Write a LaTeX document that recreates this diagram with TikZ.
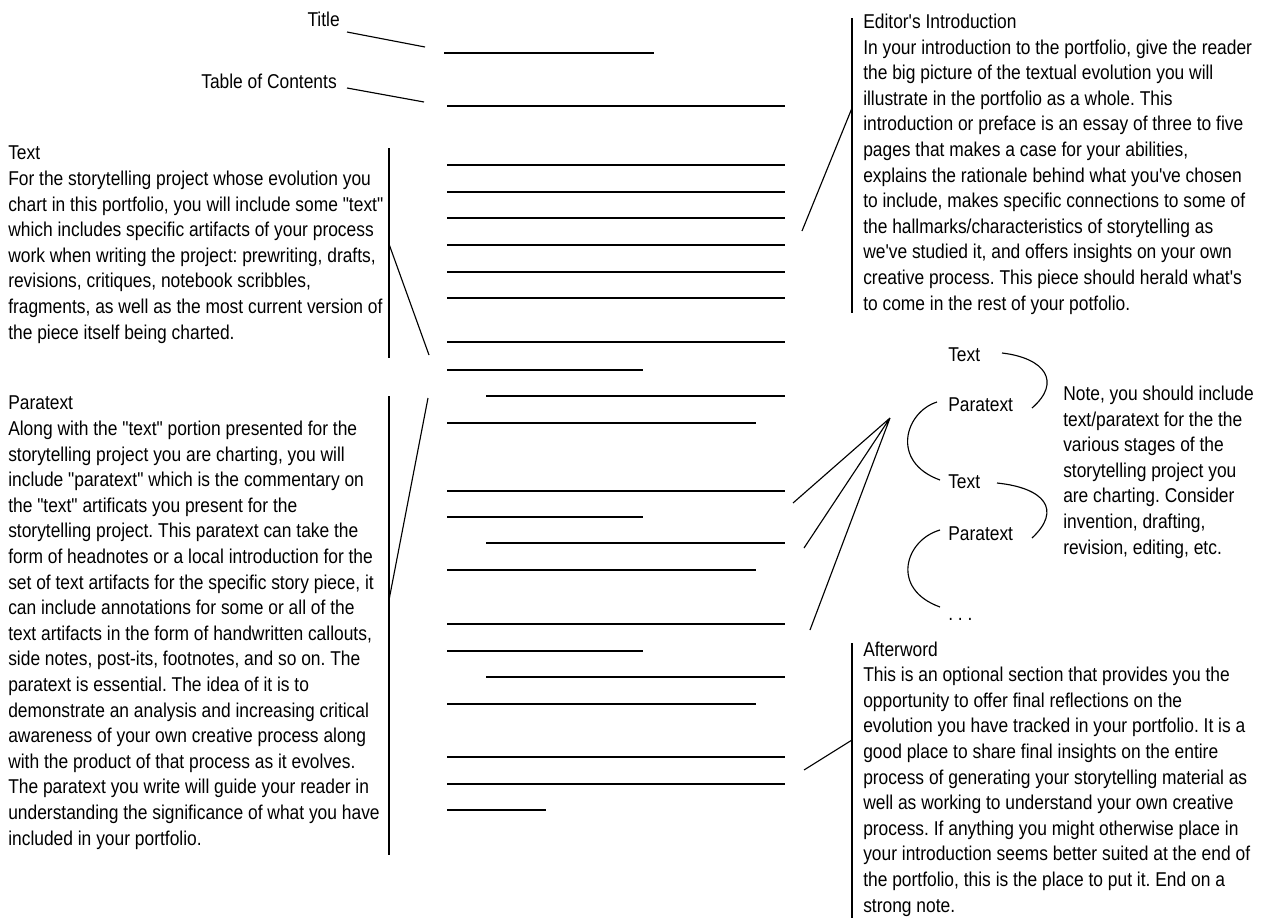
\documentclass[tikz,border=0pt]{standalone}
\usepackage{fontspec}
\usetikzlibrary{positioning}
\newfontfamily\policeb{Liberation Sans}[FakeStretch=0.87]
\newcommand\police{\policeb\fontsize{15}{19.2}\selectfont\frenchspacing}

\begin{document}
\begin{tikzpicture}[x=0.75pt, y=-0.75pt,
  regle/.style={line width=1.9pt},
  renvoi/.style={line width=0.85pt},
  accol/.style={line width=1.1pt},
  % base = ligne de base de la derniere ligne du bloc
  bloc/.style={font=\police, align=left, inner sep=0pt, anchor=base west},
  etiq/.style={font=\police, inner sep=0pt}]
  \useasboundingbox (0,0) rectangle (1272,918);

  % --- la page : traits de texte ---------------------------------------
  \draw[regle] (444,53) -- (654,53);
  \draw[regle] (447,106) -- (785,106);
  \draw[regle] (447,165) -- (785,165)  (447,192) -- (785,192)
               (447,218) -- (785,218)  (447,245) -- (785,245)
               (447,272) -- (785,272)  (447,298) -- (785,298);
  \draw[regle] (447,342) -- (785,342)  (447,370) -- (643,370)
               (486,396) -- (785,396)  (447,423) -- (756,423);
  \draw[regle] (447,491) -- (785,491)  (447,517) -- (643,517)
               (486,543) -- (785,543)  (447,570) -- (756,570);
  \draw[regle] (447,624) -- (785,624)  (447,651) -- (643,651)
               (486,677) -- (785,677)  (447,704) -- (756,704);
  \draw[regle] (447,757) -- (785,757)  (447,784) -- (785,784)
               (447,810) -- (546,810);

  % --- titre et sommaire ------------------------------------------------
  \node[etiq, anchor=base east] (titre) at (340,26) {Title};
  \node[etiq, anchor=base east] (sommaire) at (337,88) {Table of Contents};
  \coordinate (titre-b) at (425,47);
  \coordinate (sommaire-b) at (424,102);
  \draw[renvoi] ([shift={(7,6)}]titre.base east) -- (titre-b);
  \draw[renvoi] ([shift={(10,0)}]sommaire.base east) -- (sommaire-b);

  % --- bloc Text, a gauche ----------------------------------------------
  \node[bloc] (texte) at (8,339) {Text\\
    For the storytelling project whose evolution you\\
    chart in this portfolio, you will include some "text"\\
    which includes specific artifacts of your process\\
    work when writing the project: prewriting, drafts,\\
    revisions, critiques, notebook scribbles,\\
    fragments, as well as the most current version of\\
    the piece itself being charted.};
  \coordinate (texte-h) at (389,148);
  \coordinate (texte-m) at (389,244);
  \coordinate (texte-bas) at (389,358);
  \coordinate (texte-pt) at (429,355);
  \draw[accol] (texte-h) -- (texte-bas);
  \draw[renvoi] (texte-m) -- (texte-pt);

  % --- bloc Paratext, a gauche ------------------------------------------
  \node[bloc] (paratexte) at (8,845) {Paratext\\
    Along with the "text" portion presented for the\\
    storytelling project you are charting, you will\\
    include "paratext" which is the commentary on\\
    the "text" artificats you present for the\\
    storytelling project. This paratext can take the\\
    form of headnotes or a local introduction for the\\
    set of text artifacts for the specific story piece, it\\
    can include annotations for some or all of the\\
    text artifacts in the form of handwritten callouts,\\
    side notes, post-its, footnotes, and so on. The\\
    paratext is essential. The idea of it is to\\
    demonstrate an analysis and increasing critical\\
    awareness of your own creative process along\\
    with the product of that process as it evolves.\\
    The paratext you write will guide your reader in\\
    understanding the significance of what you have\\
    included in your portfolio.};
  \coordinate (para-h) at (389,396);
  \coordinate (para-m) at (389,600);
  \coordinate (para-bas) at (389,855);
  \coordinate (para-pt) at (428,398);
  \draw[accol] (para-h) -- (para-bas);
  \draw[renvoi] (para-m) -- (para-pt);

  % --- introduction, a droite -------------------------------------------
  \node[bloc] (intro) at (863,310) {Editor's Introduction\\
    In your introduction to the portfolio, give the reader\\
    the big picture of the textual evolution you will\\
    illustrate in the portfolio as a whole. This\\
    introduction or preface is an essay of three to five\\
    pages that makes a case for your abilities,\\
    explains the rationale behind what you've chosen\\
    to include, makes specific connections to some of\\
    the hallmarks/characteristics of storytelling as\\
    we've studied it, and offers insights on your own\\
    creative process. This piece should herald what's\\
    to come in the rest of your potfolio.};
  \coordinate (intro-h) at (852,18);
  \coordinate (intro-m) at (852,108);
  \coordinate (intro-bas) at (852,313);
  \coordinate (intro-pt) at (802,231);
  \draw[accol] (intro-h) -- (intro-bas);
  \draw[renvoi] (intro-m) -- (intro-pt);

  % --- alternance text / paratext ----------------------------------------
  \node[etiq, anchor=base west] (t1) at (948,361) {Text};
  \node[etiq, anchor=base west] (p1) at (948,411) {Paratext};
  \node[etiq, anchor=base west] (t2) at (948,488) {Text};
  \node[etiq, anchor=base west] (p2) at (948,540) {Paratext};
  \node[etiq, anchor=base west] (suite) at (948,620) {. . .};
  \draw[renvoi] (1002,353) .. controls (1045,358) and (1062,382) .. (1032,408);
  \draw[renvoi] (937,402) .. controls (905,412) and (890,462) .. (940,480);
  \draw[renvoi] (997,483) .. controls (1045,488) and (1062,510) .. (1032,538);
  \draw[renvoi] (940,530) .. controls (905,540) and (890,589) .. (940,607);

  \node[bloc] (note) at (1063,554) {Note, you should include\\
    text/paratext for the the\\
    various stages of the\\
    storytelling project you\\
    are charting. Consider\\
    invention, drafting,\\
    revision, editing, etc.};

  % --- eventail vers les trois sections ----------------------------------
  \coordinate (eventail) at (890,418);
  \coordinate (ev-a) at (793,503);
  \coordinate (ev-b) at (804,548);
  \coordinate (ev-c) at (810,630);
  \draw[renvoi] (eventail) -- (ev-a)  (eventail) -- (ev-b)  (eventail) -- (ev-c);

  % --- postface, a droite -----------------------------------------------
  \node[bloc] (postface) at (863,912) {Afterword\\
    This is an optional section that provides you the\\
    opportunity to offer final reflections on the\\
    evolution you have tracked in your portfolio. It is a\\
    good place to share final insights on the entire\\
    process of generating your storytelling material as\\
    well as working to understand your own creative\\
    process. If anything you might otherwise place in\\
    your introduction seems better suited at the end of\\
    the portfolio, this is the place to put it. End on a\\
    strong note.};
  \coordinate (post-h) at (852,643);
  \coordinate (post-m) at (852,740);
  \coordinate (post-bas) at (852,918);
  \coordinate (post-pt) at (804,770);
  \draw[accol] (post-h) -- (post-bas);
  \draw[renvoi] (post-m) -- (post-pt);
\end{tikzpicture}
\end{document}
